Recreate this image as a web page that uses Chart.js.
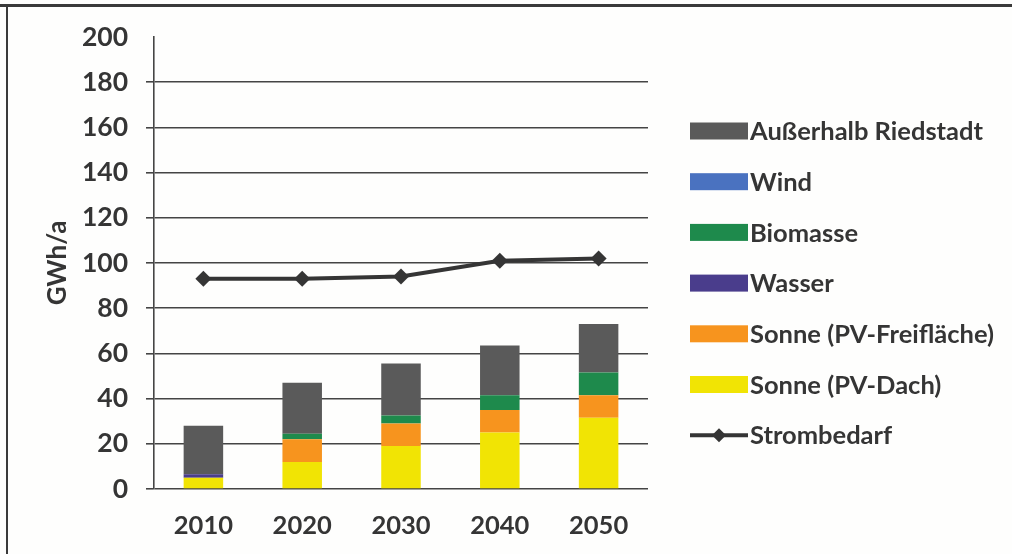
<!DOCTYPE html>
<html lang="de">
<head>
<meta charset="UTF-8">
<title>Strombedarf und Erzeugung Riedstadt</title>
<script src="https://cdn.jsdelivr.net/npm/chart.js@4"></script>
<style>
  html, body { margin: 0; padding: 0; background: #fefefd; }
  #wrap { position: relative; width: 1012px; height: 554px; }
</style>
</head>
<body>
<div id="wrap"><canvas id="chart" width="1012" height="554"></canvas></div>
<script>
// Jahre und Werte in GWh/a
const years = ['2010', '2020', '2030', '2040', '2050'];
const pvDach = [5, 12, 19, 25, 31.5];
const pvFrei = [0, 10, 10, 10, 10];
const wasser = [1.5, 0, 0, 0, 0];
const biomasse = [0, 2.5, 3.5, 6.5, 10];
const wind = [0, 0, 0, 0, 0];
const ausserhalb = [21.5, 22.5, 23, 22, 21.5];
const strombedarf = [93, 93, 94, 101, 102];
const yTicks = [0, 20, 40, 60, 80, 100, 120, 140, 160, 180, 200];

const ink = '#353535';
const font = { family: 'Lato', weight: 'bold', size: 25.5 };

function barSet(label, data, color) {
  return { type: 'bar', label, data, backgroundColor: color, borderWidth: 0, order: 1,
           categoryPercentage: 0.8, barPercentage: 0.5 };
}

// Stapel von unten nach oben, Legende zeigt sie umgekehrt
const datasets = [
  barSet('Sonne (PV-Dach)', pvDach, '#f1e404'),
  barSet('Sonne (PV-Freifläche)', pvFrei, '#f7941e'),
  barSet('Wasser', wasser, '#4a3d8c'),
  barSet('Biomasse', biomasse, '#1e8a4c'),
  barSet('Wind', wind, '#4a72c0'),
  barSet('Außerhalb Riedstadt', ausserhalb, '#5a5a5a'),
  { type: 'line', label: 'Strombedarf', data: strombedarf, stack: 'bedarf', order: 0,
    borderColor: ink, backgroundColor: ink, borderWidth: 4, tension: 0,
    pointStyle: 'rectRot', pointRadius: 8, pointBackgroundColor: ink, pointBorderWidth: 0 }
];

// Rahmen oben und links
const frame = {
  id: 'frame',
  beforeDraw(chart) {
    const c = chart.ctx;
    c.save();
    c.fillStyle = '#fefefd';
    c.fillRect(0, 0, chart.width, chart.height);
    c.fillStyle = '#3a3a3a';
    c.fillRect(0, 4, chart.width, 3);
    c.fillRect(6, 4, 2, chart.height - 4);
    c.restore();
  }
};

// Legende rechts neben dem Diagramm
const sideLegend = {
  id: 'sideLegend',
  afterDraw(chart) {
    const c = chart.ctx;
    const sets = chart.data.datasets;
    const items = sets.filter(d => d.type === 'bar').reverse()
      .concat(sets.filter(d => d.type === 'line'));
    const x0 = chart.chartArea.right + 42;
    const boxW = 58, boxH = 17;
    let y = 131;
    c.save();
    c.font = 'bold 25.5px Lato';
    c.textBaseline = 'middle';
    c.textAlign = 'left';
    items.forEach(d => {
      if (d.type === 'line') {
        c.strokeStyle = d.borderColor;
        c.lineWidth = 4;
        c.beginPath();
        c.moveTo(x0, y);
        c.lineTo(x0 + boxW, y);
        c.stroke();
        c.fillStyle = d.borderColor;
        c.beginPath();
        c.moveTo(x0 + boxW / 2, y - 7);
        c.lineTo(x0 + boxW / 2 + 7, y);
        c.lineTo(x0 + boxW / 2, y + 7);
        c.lineTo(x0 + boxW / 2 - 7, y);
        c.closePath();
        c.fill();
      } else {
        c.fillStyle = d.backgroundColor;
        c.fillRect(x0, y - boxH / 2, boxW, boxH);
      }
      c.fillStyle = ink;
      c.fillText(d.label, x0 + boxW + 2, y + 1);
      y += 50.7;
    });
    c.restore();
  }
};

new Chart(document.getElementById('chart'), {
  data: { labels: years, datasets },
  options: {
    responsive: false,
    animation: false,
    layout: { padding: { top: 37, right: 364, bottom: 15, left: 0 } },
    plugins: { legend: { display: false }, tooltip: { enabled: false } },
    scales: {
      x: {
        stacked: true,
        afterFit(scale) { scale.height = 50; },
        grid: { display: false, drawTicks: false },
        border: { display: false },
        ticks: { color: ink, font, padding: 21 }
      },
      y: {
        stacked: true,
        min: 0,
        max: 200,
        afterFit(scale) { scale.width = 154; },
        afterBuildTicks(scale) { scale.ticks = yTicks.map(v => ({ value: v })); },
        grid: {
          color: ctx => ctx.tick && ctx.tick.value === 200 ? 'rgba(0,0,0,0)' : '#454545',
          lineWidth: 1.6,
          tickLength: 8
        },
        border: { display: true, color: '#454545', width: 1.6 },
        ticks: { color: ink, font: { family: 'Lato', weight: 'bold', size: 26.5 }, padding: 18 },
        title: {
          display: true,
          text: 'GWh/a',
          color: ink,
          font: { family: 'Lato', weight: 'bold', size: 26 },
          padding: { top: 42, bottom: 0 }
        }
      }
    }
  },
  plugins: [frame, sideLegend]
});
</script>
</body>
</html>
